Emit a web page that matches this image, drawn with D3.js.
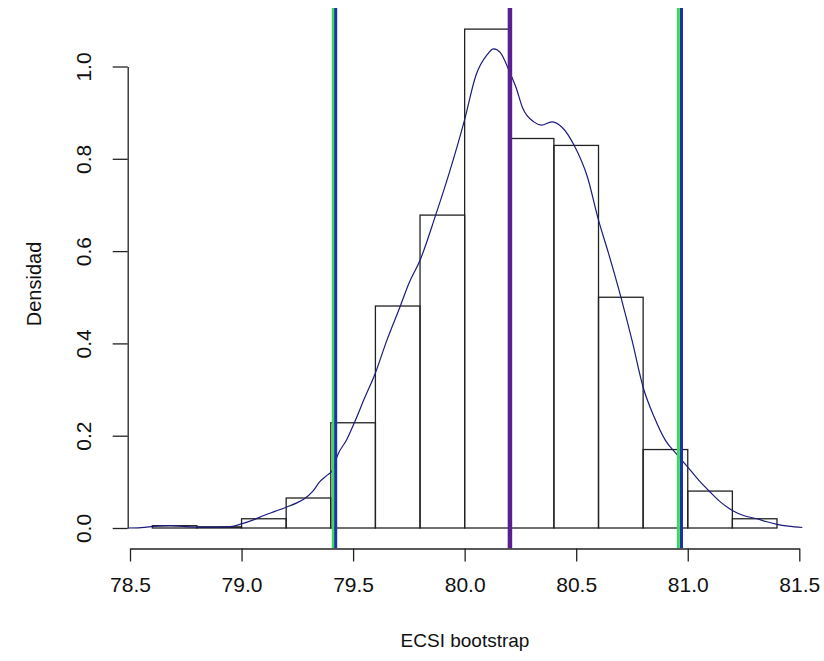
<!DOCTYPE html>
<html>
<head>
<meta charset="utf-8">
<script src="https://cdn.jsdelivr.net/npm/d3@7"></script>
<style>
  html, body { margin: 0; padding: 0; background: #fff; }
  svg { display: block; }
  text { font-family: "Liberation Sans", Arial, sans-serif; fill: #111; }
</style>
</head>
<body>
<svg id="chart" width="824" height="661"></svg>
<script>
// ---------- data ----------
const binEdges = [78.6, 78.8, 79.0, 79.2, 79.4, 79.6, 79.8, 80.0, 80.2, 80.4, 80.6, 80.8, 81.0, 81.2, 81.4];
const binDensity = [0.005, 0.0025, 0.02, 0.065, 0.228, 0.481, 0.678, 1.081, 0.844, 0.829, 0.5, 0.17, 0.08, 0.02];

const densityX = [78.49, 78.55, 78.62, 78.68, 78.75, 78.82, 78.9, 78.95, 79.0, 79.05, 79.1, 79.15, 79.2, 79.25, 79.28,
  79.32, 79.35, 79.38, 79.41, 79.43, 79.47, 79.51, 79.55, 79.6, 79.65, 79.71, 79.75, 79.8, 79.87, 79.93, 80.0,
  80.05, 80.1, 80.13, 80.16, 80.2, 80.23, 80.26, 80.31, 80.345, 80.39, 80.435, 80.49, 80.55, 80.6, 80.645, 80.7,
  80.75, 80.8, 80.85, 80.9, 80.95, 81.0, 81.05, 81.1, 81.15, 81.2, 81.25, 81.31, 81.35, 81.4, 81.45, 81.52];
const densityY = [0.0, 0.001, 0.004, 0.005, 0.003, 0.002, 0.002, 0.003, 0.009, 0.017, 0.027, 0.036, 0.045, 0.055, 0.063,
  0.08, 0.1, 0.113, 0.127, 0.157, 0.19, 0.233, 0.28, 0.336, 0.405, 0.479, 0.53, 0.58, 0.678, 0.768, 0.885,
  0.98, 1.025, 1.038, 1.03, 0.99, 0.955, 0.91, 0.88, 0.873, 0.88, 0.869, 0.83, 0.761, 0.667, 0.595, 0.501,
  0.407, 0.305, 0.24, 0.19, 0.16, 0.132, 0.103, 0.078, 0.055, 0.038, 0.027, 0.02, 0.014, 0.008, 0.004, 0.001];

// reference lines: one interval (green), another interval (blue), mean (purple)
const intervalA = [79.411, 80.958];
const intervalB = [79.422, 80.972];
const meanValue = [80.203];

const xTicks = [78.5, 79.0, 79.5, 80.0, 80.5, 81.0, 81.5];
const yTicks = [0.0, 0.2, 0.4, 0.6, 0.8, 1.0];
const xLabel = "ECSI bootstrap";
const yLabel = "Densidad";

// ---------- layout ----------
const svg = d3.select("#chart");
const plotLeft = 127.7, plotRight = 802.3, plotTop = 8, plotBottom = 548.5;
const FONT = '"Liberation Sans", Arial, sans-serif';

const x = d3.scaleLinear().domain([78.5, 81.5]).range([130, 799.3]);
const y = d3.scaleLinear().domain([0, 1]).range([528, 66.5]);

svg.append("defs").append("clipPath").attr("id", "plotclip")
  .append("rect")
  .attr("x", plotLeft).attr("y", plotTop)
  .attr("width", plotRight - plotLeft).attr("height", plotBottom - plotTop);

const plot = svg.append("g").attr("clip-path", "url(#plotclip)");

// histogram
const bins = binDensity.map((d, i) => ({ x0: binEdges[i], x1: binEdges[i + 1], d }));
plot.append("g").selectAll("rect").data(bins).join("rect")
  .attr("x", b => x(b.x0))
  .attr("y", b => y(b.d))
  .attr("width", b => x(b.x1) - x(b.x0))
  .attr("height", b => y(0) - y(b.d))
  .attr("fill", "none")
  .attr("stroke", "#222")
  .attr("stroke-width", 1.3);

// density curve
const pts = densityX.map((v, i) => [v, densityY[i]]);
plot.append("path")
  .datum(pts)
  .attr("d", d3.line().x(p => x(p[0])).y(p => y(p[1])).curve(d3.curveMonotoneX))
  .attr("fill", "none")
  .attr("stroke", "#1b1b7c")
  .attr("stroke-width", 1.2);

// vertical reference lines
function vlines(vals, color, w) {
  plot.append("g").selectAll("line").data(vals).join("line")
    .attr("x1", v => x(v)).attr("x2", v => x(v))
    .attr("y1", plotTop).attr("y2", plotBottom)
    .attr("stroke", color).attr("stroke-width", w);
}
vlines(intervalA, "#3cda5a", 3);
vlines(intervalB, "#1a32aa", 3);
vlines(meanValue, "#5a1d92", 4.5);

// axes
const fmt = d3.format(".1f");
const xAxis = svg.append("g")
  .attr("transform", `translate(0,${plotBottom})`)
  .call(d3.axisBottom(x).tickValues(xTicks).tickFormat(fmt).tickSize(13).tickSizeOuter(0));
const yAxis = svg.append("g")
  .attr("transform", `translate(${plotLeft},0)`)
  .call(d3.axisLeft(y).tickValues(yTicks).tickFormat(fmt).tickSize(15).tickSizeOuter(0));

[xAxis, yAxis].forEach(a => {
  a.select(".domain").attr("stroke", "#222").attr("stroke-width", 1.3);
  a.selectAll(".tick line").attr("stroke", "#222").attr("stroke-width", 1.3);
  a.selectAll(".tick text").style("font-family", FONT)
    .style("font-size", "21px").attr("fill", "#111");
});
xAxis.selectAll(".tick text").attr("y", 43).attr("dy", null);

// rotate y labels like R (las = 0)
yAxis.selectAll(".tick text")
  .attr("x", null)
  .attr("text-anchor", "middle")
  .attr("transform", "translate(-44,0) rotate(-90)")
  .attr("dy", "0.35em");

// axis titles
svg.append("text")
  .attr("x", (plotLeft + plotRight) / 2).attr("y", 647)
  .attr("text-anchor", "middle")
  .style("font-size", "19px")
  .text(xLabel);
svg.append("text")
  .attr("transform", `translate(34,284) rotate(-90)`)
  .attr("text-anchor", "middle")
  .attr("dy", "0.35em")
  .style("font-size", "20px")
  .text(yLabel);
</script>
</body>
</html>
